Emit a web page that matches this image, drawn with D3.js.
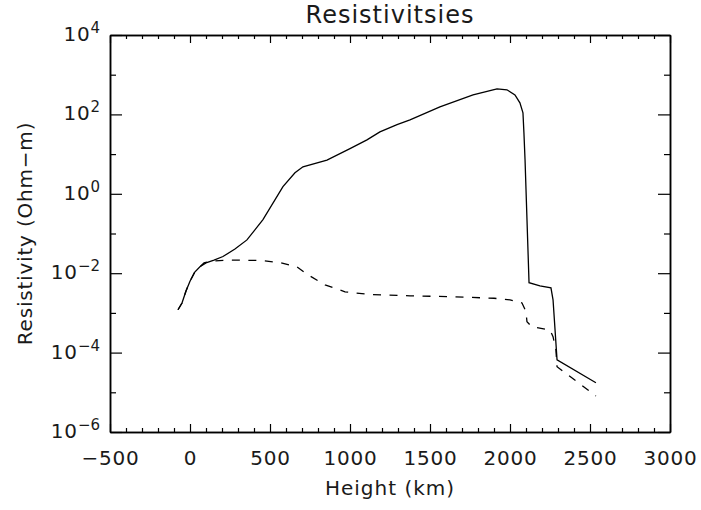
<!DOCTYPE html>
<html>
<head>
<meta charset="utf-8">
<script src="https://cdn.jsdelivr.net/npm/d3@7"></script>
<style>
  body { margin: 0; background: #fff; }
  text { font-family: "DejaVu Sans", sans-serif; font-weight: normal; fill: #1a1a1a; }
</style>
</head>
<body>
<div id="chart"></div>
<script>
// SETUP
var width = 701,
    height = 510;
var margin = {top: 35, right: 31, bottom: 78, left: 110};   // plot box 110..670 x 35..432

// DATA
// solid curve
var heightSolid = [-75, -50, -25, 0, 30, 62, 100, 150, 206, 281, 356, 456, 581, 656, 706, 856, 1000, 1106,
                   1187, 1294, 1375, 1562, 1769, 1919, 1981, 2031, 2062, 2081, 2087, 2094, 2119,
                   2187, 2256, 2269, 2294, 2537];
var rhoSolid = [1.2e-3, 1.78e-3, 3.55e-3, 6.3e-3, 1.07e-2, 1.45e-2, 1.82e-2, 2.14e-2, 2.63e-2, 4.07e-2, 6.9e-2,
                0.224, 1.51, 3.39, 4.79, 7.08, 13.8, 22.9, 36.3, 55, 72.4, 155, 309, 437, 417, 309, 195,
                110, 34.7, 7.24, 5.75e-3, 4.79e-3, 4.27e-3, 2.14e-3, 6.6e-5, 1.74e-5];
// dashed curve
var heightDashed = [-75, -50, -25, 0, 30, 62, 88, 125, 250, 438, 562, 669, 737, 844, 969, 1137, 1375, 1625,
                    1900, 2000, 2075, 2100, 2106, 2137, 2250, 2269, 2287, 2294, 2537];
var rhoDashed = [1.2e-3, 1.78e-3, 3.55e-3, 6.3e-3, 1.07e-2, 1.45e-2, 1.82e-2, 2.0e-2, 2.14e-2, 2.09e-2, 1.86e-2,
                 1.45e-2, 9.1e-3, 5.1e-3, 3.39e-3, 2.88e-3, 2.69e-3, 2.57e-3, 2.34e-3, 2.14e-3, 1.78e-3,
                 1.07e-3, 6.0e-4, 4.47e-4, 3.72e-4, 2.51e-4, 1.17e-4, 4.4e-5, 8.1e-6];

// ticks
var xMajor = [-500, 0, 500, 1000, 1500, 2000, 2500, 3000];
var xMinor = [-400, -300, -200, -100, 100, 200, 300, 400, 600, 700, 800, 900, 1100, 1200, 1300, 1400,
              1600, 1700, 1800, 1900, 2100, 2200, 2300, 2400, 2600, 2700, 2800, 2900];
var yMajor = [1e-6, 1e-4, 1e-2, 1e0, 1e2, 1e4];
var yMajorExp = ["\u22126", "\u22124", "\u22122", "0", "2", "4"];
var yMinor = [1e-5, 1e-3, 1e-1, 1e1, 1e3];

var titleText = "Resistivitsies",
    xTitle = "Height (km)",
    yTitle = "Resistivity (Ohm\u2212m)";

// SCALES
var x = d3.scaleLinear().domain([-500, 3000]).range([margin.left, width - margin.right]);
var y = d3.scaleLog().domain([1e-6, 1e4]).range([height - margin.bottom, margin.top]);

var svg = d3.select("#chart").append("svg")
    .attr("width", width)
    .attr("height", height);

// AXES (ticks point inward, IDL style)
var x0 = margin.left, x1 = width - margin.right,
    y0 = height - margin.bottom, y1 = margin.top;

function styleAxis(g) {
  g.selectAll("path.domain").attr("stroke", "#000").attr("stroke-width", 1.5);
  g.selectAll("line").attr("stroke", "#000").attr("stroke-width", 1.2);
}

// plain integers, real minus sign, no thousands comma
function fmtX(d) { return d < 0 ? "\u2212" + (-d) : String(d); }

// bottom
svg.append("g").attr("transform", "translate(0," + y0 + ")")
    .call(d3.axisBottom(x).tickValues(xMinor).tickSize(-4).tickSizeOuter(0).tickFormat(""))
    .call(styleAxis);
var bottom = svg.append("g").attr("transform", "translate(0," + y0 + ")")
    .call(d3.axisBottom(x).tickValues(xMajor).tickSize(-8).tickSizeOuter(0).tickPadding(19).tickFormat(fmtX))
    .call(styleAxis);
bottom.selectAll("text")
    .style("font-size", "20px")
    .style("letter-spacing", "0.8px");
// top
svg.append("g").attr("transform", "translate(0," + y1 + ")")
    .call(d3.axisTop(x).tickValues(xMinor).tickSize(-4).tickSizeOuter(0).tickFormat(""))
    .call(styleAxis);
svg.append("g").attr("transform", "translate(0," + y1 + ")")
    .call(d3.axisTop(x).tickValues(xMajor).tickSize(-8).tickSizeOuter(0).tickFormat(""))
    .call(styleAxis);

// left
svg.append("g").attr("transform", "translate(" + x0 + ",0)")
    .call(d3.axisLeft(y).tickValues(yMinor).tickSize(-6).tickSizeOuter(0).tickFormat(""))
    .call(styleAxis);
var left = svg.append("g").attr("transform", "translate(" + x0 + ",0)")
    .call(d3.axisLeft(y).tickValues(yMajor).tickSize(-12).tickSizeOuter(0).tickPadding(10).tickFormat(""))
    .call(styleAxis);
left.selectAll("text")
    .attr("dy", "0.55em")
    .each(function(d, i) {
      var t = d3.select(this);
      t.append("tspan").style("font-size", "20px").style("letter-spacing", "0.8px").text("10");
      t.append("tspan").style("font-size", "15px").attr("dy", "-8px").text(yMajorExp[i]);
    });
// right
svg.append("g").attr("transform", "translate(" + x1 + ",0)")
    .call(d3.axisRight(y).tickValues(yMinor).tickSize(-6).tickSizeOuter(0).tickFormat(""))
    .call(styleAxis);
svg.append("g").attr("transform", "translate(" + x1 + ",0)")
    .call(d3.axisRight(y).tickValues(yMajor).tickSize(-12).tickSizeOuter(0).tickFormat(""))
    .call(styleAxis);

// CURVES
var line = d3.line()
    .x(function(d) { return x(d[0]); })
    .y(function(d) { return y(d[1]); });

svg.append("path")
    .datum(d3.zip(heightSolid, rhoSolid))
    .attr("d", line)
    .attr("fill", "none")
    .attr("stroke", "#000")
    .attr("stroke-width", 1.3);

svg.append("path")
    .datum(d3.zip(heightDashed, rhoDashed))
    .attr("d", line)
    .attr("fill", "none")
    .attr("stroke", "#000")
    .attr("stroke-width", 1.3)
    .attr("stroke-dasharray", "8,8.5");

// TITLES
svg.append("text")
    .attr("x", (x0 + x1) / 2)
    .attr("y", 23)
    .attr("text-anchor", "middle")
    .style("font-size", "24px")
    .style("letter-spacing", "1px")
    .text(titleText);

svg.append("text")
    .attr("x", (x0 + x1) / 2)
    .attr("y", 495)
    .attr("text-anchor", "middle")
    .style("font-size", "20px")
    .style("letter-spacing", "1px")
    .text(xTitle);

svg.append("text")
    .attr("transform", "translate(32," + ((y0 + y1) / 2) + ") rotate(-90)")
    .attr("text-anchor", "middle")
    .style("font-size", "20px")
    .style("letter-spacing", "0.8px")
    .text(yTitle);
</script>
</body>
</html>
